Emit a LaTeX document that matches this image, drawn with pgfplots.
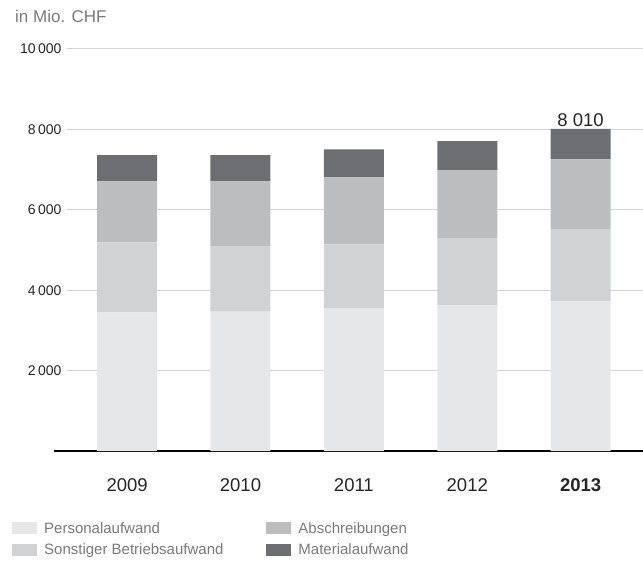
\documentclass[border=0pt]{standalone}
\usepackage{pgfplots}
\pgfplotsset{compat=1.18}
\usepackage{fontspec}
\setmainfont{Liberation Sans}
\definecolor{cPers}{HTML}{E6E7E8}
\definecolor{cSons}{HTML}{D1D2D4}
\definecolor{cAbs}{HTML}{BCBDBF}
\definecolor{cMat}{HTML}{6D6E71}
\definecolor{cGrid}{HTML}{D4D4D4}
\definecolor{cTxt}{HTML}{7A7A7A}
\begin{document}
\begin{tikzpicture}
\useasboundingbox (-67pt,-114pt) rectangle (576pt,451pt);
\begin{axis}[
  scale only axis, width=576pt, height=402pt,
  xmin=-0.53, xmax=4.55, ymin=0, ymax=10000,
  ybar stacked, bar width=60pt,
  axis line style={draw=none},
  clip=false,
  xtick={0,1,2,3,4},
  xticklabels={2009,2010,2011,2012,\textbf{2013}},
  x tick label style={font=\fontsize{18.5}{22}\selectfont, text=black!85, yshift=-24pt},
  major tick length=0pt,
  ytick={2000,4000,6000,8000,10000},
  scaled y ticks=false,
  ymajorgrids,
  grid style={cGrid, line width=1pt},
  y tick label style={font=\fontsize{14}{16}\selectfont, text=black!85, xshift=-2pt},
  /pgf/number format/assume math mode=true,
  /pgf/number format/1000 sep={\,},
  legend columns=2,
  legend cell align=left,
  legend style={at={(-55pt,-69pt)}, anchor=north west, draw=none, fill=none,
    font=\fontsize{15}{18}\selectfont, text=cTxt,
    row sep=5.5pt, inner sep=0pt,
    /tikz/every odd column/.append style={column sep=5pt},
    /tikz/every even column/.append style={column sep=41pt}},
  legend image code/.code={\fill[#1, draw=none] (0pt,-6pt) rectangle (25pt,6pt);},
]
\addplot[fill=cPers, draw=none, forget plot] coordinates {(0,3449) (1,3466) (2,3541) (3,3624) (4,3724)};
\addplot[fill=cSons, draw=none, forget plot] coordinates {(0,1738) (1,1621) (2,1596) (3,1671) (4,1795)};
\addplot[fill=cAbs, draw=none, forget plot] coordinates {(0,1521) (1,1621) (2,1671) (3,1688) (4,1738)};
\addplot[fill=cMat, draw=none, forget plot] coordinates {(0,649) (1,649) (2,698) (3,723) (4,753)};
\addlegendimage{fill=cPers, draw=none}\addlegendentry{Personalaufwand}
\addlegendimage{fill=cAbs, draw=none}\addlegendentry{Abschreibungen}
\addlegendimage{fill=cSons, draw=none}\addlegendentry{Sonstiger Betriebsaufwand}
\addlegendimage{fill=cMat, draw=none}\addlegendentry{Materialaufwand}
\draw[black, line width=2.6pt] (axis cs:-0.645,0) -- (axis cs:4.55,0);
\node[anchor=south, font=\fontsize{18.5}{22}\selectfont, text=black!85, inner sep=2.5pt] at (axis cs:4,8010) {8 010};
\node[anchor=west, font=\fontsize{17}{20}\selectfont, text=cTxt, inner sep=0pt] at (rel axis cs:0,1) [xshift=-52pt, yshift=33pt] {in Mio. CHF};
\end{axis}
\end{tikzpicture}
\end{document}
